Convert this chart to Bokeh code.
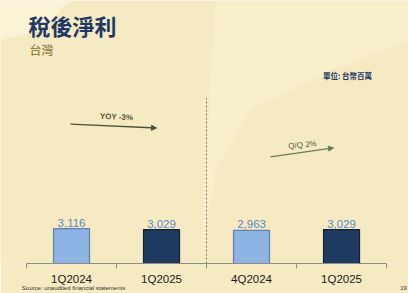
from bokeh.plotting import figure
from bokeh.models import Range1d, LinearAxis, FixedTicker, Label, Arrow, NormalHead, ColumnDataSource
from bokeh.core.properties import value
from bokeh.embed import file_html
from bokeh.resources import INLINE

# ---- data ----
categories = ["1Q2024", "1Q2025", "4Q2024", "1Q2025"]
profit = [3116, 3029, 2963, 3029]
bar_colors = ["#8DB4E2", "#1F3A60", "#8DB4E2", "#1F3A60"]
edge_colors = ["#5B7FAF", "#0F1F35", "#5B7FAF", "#0F1F35"]
value_labels = [f"{v:,}" for v in profit]
footer_texts = ["Source: unaudited financial statements", "19"]

# ---- layout helpers (canvas pixel -> data) ----
W, H = 408, 293
FRAME_H = 264
Y_END = 23500
X_START, X_END = -0.789, 3.744


def dx(px):
    return X_START + px / W * (X_END - X_START)


def dy(py):
    return (FRAME_H - py) / FRAME_H * Y_END


BG = "#F6EAC2"

p = figure(width=W, height=H, x_range=Range1d(X_START, X_END), y_range=Range1d(0, Y_END),
           output_backend="svg", toolbar_location=None,
           min_border_left=0, min_border_right=0, min_border_top=0, min_border_bottom=29,
           x_axis_location=None, y_axis_location=None)
p.outline_line_color = None
p.background_fill_color = BG
p.border_fill_color = BG
p.xgrid.visible = False
p.ygrid.visible = False

# subtle lighter background areas
p.patch([dx(0), dx(70), dx(40), dx(0)], [dy(0), dy(0), dy(30), dy(40)],
        fill_color="#FFFBEA", fill_alpha=0.5, line_color=None)
p.patch([dx(215), dx(408), dx(408), dx(330), dx(250), dx(215), dx(200)],
        [dy(0), dy(0), dy(40), dy(70), dy(110), dy(170), dy(264)],
        fill_color="#FBF3D6", fill_alpha=0.5, line_color=None)

idx = list(range(len(categories)))
src = ColumnDataSource(dict(x=idx, top=profit, color=bar_colors, edge=edge_colors,
                            label=value_labels, cat=categories))

p.vbar(x="x", top="top", bottom=0, width=0.4, fill_color="color", line_color="edge",
       line_width=1.2, source=src)
p.text(x="x", y="top", text="label", source=src, text_align="center", text_baseline="bottom",
       y_offset=-2, text_font=value("Liberation Sans"), text_font_size="11.5px",
       text_color="#5B87C3")

# divider
p.segment(x0=[1.5], y0=[0], x1=[1.5], y1=[dy(98)], line_color="#7A7A6A",
          line_dash="2 2", line_width=1)

# category axis
ax = LinearAxis(ticker=FixedTicker(ticks=idx, minor_ticks=[-0.5, 0.5, 1.5, 2.5, 3.5]))
ax.bounds = (-0.5, 3.5)
ax.major_label_overrides = {i: c for i, c in zip(idx, categories)}
ax.major_tick_line_color = None
ax.major_tick_out = 0
ax.major_tick_in = 0
ax.minor_tick_in = 0
ax.minor_tick_out = 5
ax.minor_tick_line_color = "#8C8C80"
ax.axis_line_color = "#8C8C80"
ax.major_label_standoff = 4
ax.major_label_text_font = "Liberation Sans"
ax.major_label_text_font_size = "11.5px"
ax.major_label_text_color = "#1A1A1A"
p.add_layout(ax, "below")

# footer line as a second (line-less) axis
foot_pos = [dx(73), dx(403)]
fax = LinearAxis(ticker=FixedTicker(ticks=foot_pos, minor_ticks=[]))
fax.major_label_overrides = {t: s for t, s in zip(foot_pos, footer_texts)}
fax.axis_line_color = None
fax.major_tick_line_color = None
fax.minor_tick_line_color = None
fax.major_tick_out = 0
fax.major_tick_in = 0
fax.major_label_standoff = -3
fax.major_label_text_font = "Liberation Sans"
fax.major_label_text_font_size = "6px"
fax.major_label_text_color = "#333333"
p.add_layout(fax, "below")

# titles
p.add_layout(Label(x=dx(28), y=dy(25), text="稅後淨利", text_font="Noto Sans CJK TC",
                   text_font_style="bold", text_font_size="22px", text_color="#213866",
                   text_baseline="middle", text_align="left"))
p.add_layout(Label(x=dx(29), y=dy(49), text="台灣", text_font="Noto Sans CJK TC",
                   text_font_size="12px", text_color="#7D6B2A",
                   text_baseline="middle", text_align="left"))
p.add_layout(Label(x=dx(347), y=dy(75), text="單位: 台幣百萬", text_font="Noto Sans CJK TC",
                   text_font_style="bold", text_font_size="7.5px", text_color="#213866",
                   text_baseline="middle", text_align="center"))

# arrows
p.add_layout(Arrow(end=NormalHead(size=5, fill_color="#4F4F3C", line_color="#4F4F3C"),
                   x_start=dx(70), y_start=dy(124), x_end=dx(156), y_end=dy(128),
                   line_color="#4F4F3C", line_width=1.3))
p.add_layout(Label(x=dx(116), y=dy(117), text="YOY -3%", text_font="Liberation Sans",
                   text_font_style="bold", text_font_size="8px", text_color="#55553F",
                   text_align="center", text_baseline="middle", angle=-0.05))
p.add_layout(Arrow(end=NormalHead(size=5, fill_color="#697A57", line_color="#697A57"),
                   x_start=dx(270), y_start=dy(157), x_end=dx(333), y_end=dy(148),
                   line_color="#697A57", line_width=1.3))
p.add_layout(Label(x=dx(302), y=dy(145), text="Q/Q 2%", text_font="Liberation Sans",
                   text_font_size="8px", text_color="#56623F",
                   text_align="center", text_baseline="middle", angle=0.09))

open("out.html", "w").write(file_html(p, INLINE))
